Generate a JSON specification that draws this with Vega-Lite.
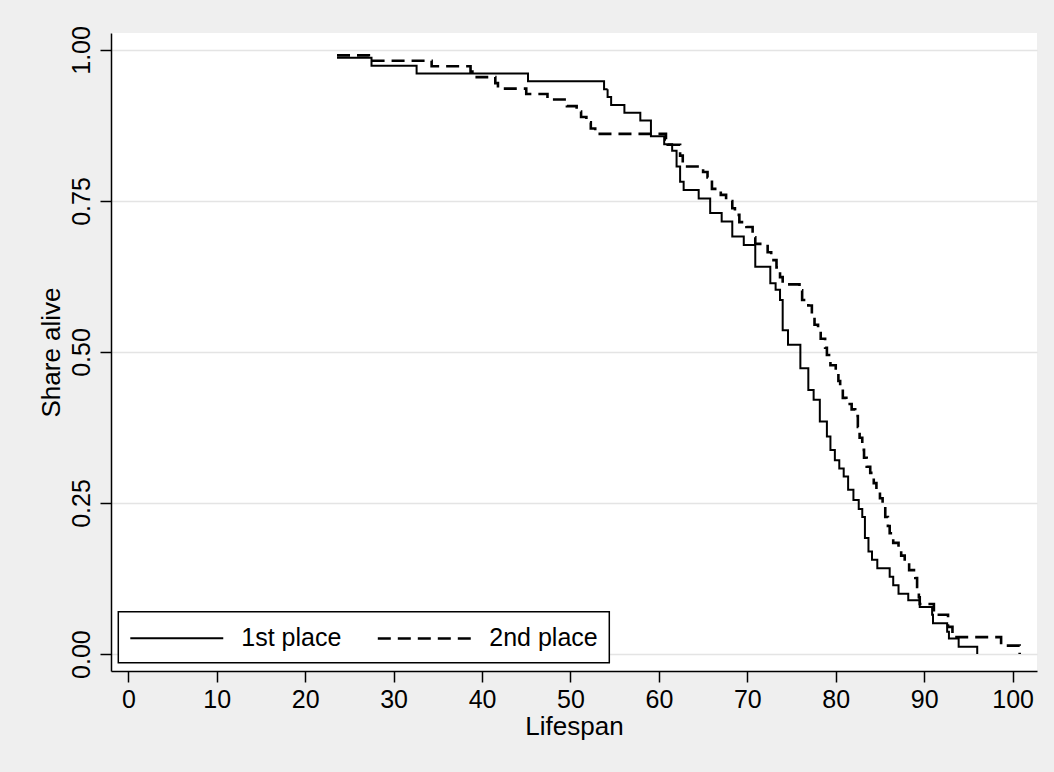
{
  "$schema": "https://vega.github.io/schema/vega-lite/v6.json",
  "autosize": "none",
  "width": 926,
  "height": 638,
  "padding": {"left": 111, "top": 33, "right": 17, "bottom": 101},
  "background": "#efefef",
  "config": {
    "view": {"fill": "white", "stroke": null},
    "font": "Liberation Sans",
    "axis": {
      "labelFont": "Liberation Sans",
      "titleFont": "Liberation Sans",
      "labelFontSize": 25,
      "titleFontSize": 26,
      "titleFontWeight": "normal",
      "labelColor": "black",
      "titleColor": "black",
      "domainColor": "black",
      "domainWidth": 1.5,
      "tickColor": "black",
      "tickWidth": 1.5,
      "tickSize": 11
    },
    "legend": {"strokeWidth": 1.5}
  },
  "data": {
    "values": [
      {"place": "1st place", "age": 23.6, "s": 0.987},
      {"place": "1st place", "age": 27.5, "s": 0.974},
      {"place": "1st place", "age": 32.6, "s": 0.961},
      {"place": "1st place", "age": 45.2, "s": 0.948},
      {"place": "1st place", "age": 53.8, "s": 0.935},
      {"place": "1st place", "age": 54.2, "s": 0.922},
      {"place": "1st place", "age": 54.6, "s": 0.909},
      {"place": "1st place", "age": 56.1, "s": 0.896},
      {"place": "1st place", "age": 57.9, "s": 0.883},
      {"place": "1st place", "age": 59.1, "s": 0.857},
      {"place": "1st place", "age": 60.6, "s": 0.844},
      {"place": "1st place", "age": 61.5, "s": 0.833},
      {"place": "1st place", "age": 62.0, "s": 0.807},
      {"place": "1st place", "age": 62.4, "s": 0.782},
      {"place": "1st place", "age": 62.8, "s": 0.768},
      {"place": "1st place", "age": 64.5, "s": 0.754},
      {"place": "1st place", "age": 65.8, "s": 0.730},
      {"place": "1st place", "age": 67.1, "s": 0.716},
      {"place": "1st place", "age": 68.3, "s": 0.691},
      {"place": "1st place", "age": 69.6, "s": 0.677},
      {"place": "1st place", "age": 70.9, "s": 0.641},
      {"place": "1st place", "age": 72.6, "s": 0.614},
      {"place": "1st place", "age": 73.2, "s": 0.603},
      {"place": "1st place", "age": 73.7, "s": 0.586},
      {"place": "1st place", "age": 74.0, "s": 0.536},
      {"place": "1st place", "age": 74.6, "s": 0.512},
      {"place": "1st place", "age": 76.0, "s": 0.473},
      {"place": "1st place", "age": 76.9, "s": 0.437},
      {"place": "1st place", "age": 77.5, "s": 0.421},
      {"place": "1st place", "age": 78.2, "s": 0.385},
      {"place": "1st place", "age": 79.0, "s": 0.360},
      {"place": "1st place", "age": 79.4, "s": 0.338},
      {"place": "1st place", "age": 79.9, "s": 0.321},
      {"place": "1st place", "age": 80.4, "s": 0.307},
      {"place": "1st place", "age": 80.9, "s": 0.294},
      {"place": "1st place", "age": 81.4, "s": 0.272},
      {"place": "1st place", "age": 82.0, "s": 0.255},
      {"place": "1st place", "age": 82.6, "s": 0.240},
      {"place": "1st place", "age": 83.0, "s": 0.227},
      {"place": "1st place", "age": 83.3, "s": 0.192},
      {"place": "1st place", "age": 83.7, "s": 0.170},
      {"place": "1st place", "age": 84.1, "s": 0.156},
      {"place": "1st place", "age": 84.7, "s": 0.142},
      {"place": "1st place", "age": 86.1, "s": 0.128},
      {"place": "1st place", "age": 86.5, "s": 0.114},
      {"place": "1st place", "age": 87.1, "s": 0.100},
      {"place": "1st place", "age": 88.2, "s": 0.089},
      {"place": "1st place", "age": 89.5, "s": 0.078},
      {"place": "1st place", "age": 90.9, "s": 0.065},
      {"place": "1st place", "age": 91.0, "s": 0.051},
      {"place": "1st place", "age": 92.6, "s": 0.037},
      {"place": "1st place", "age": 92.8, "s": 0.026},
      {"place": "1st place", "age": 93.9, "s": 0.012},
      {"place": "1st place", "age": 96.0, "s": 0.0},
      {"place": "2nd place", "age": 23.6, "s": 0.991},
      {"place": "2nd place", "age": 27.2, "s": 0.982},
      {"place": "2nd place", "age": 34.3, "s": 0.973},
      {"place": "2nd place", "age": 38.7, "s": 0.964},
      {"place": "2nd place", "age": 39.4, "s": 0.955},
      {"place": "2nd place", "age": 41.5, "s": 0.945},
      {"place": "2nd place", "age": 41.8, "s": 0.936},
      {"place": "2nd place", "age": 45.0, "s": 0.927},
      {"place": "2nd place", "age": 47.4, "s": 0.918},
      {"place": "2nd place", "age": 49.6, "s": 0.907},
      {"place": "2nd place", "age": 50.7, "s": 0.898},
      {"place": "2nd place", "age": 51.2, "s": 0.889},
      {"place": "2nd place", "age": 51.8, "s": 0.880},
      {"place": "2nd place", "age": 52.3, "s": 0.870},
      {"place": "2nd place", "age": 52.8, "s": 0.861},
      {"place": "2nd place", "age": 60.8, "s": 0.852},
      {"place": "2nd place", "age": 61.0, "s": 0.843},
      {"place": "2nd place", "age": 62.4, "s": 0.825},
      {"place": "2nd place", "age": 62.7, "s": 0.807},
      {"place": "2nd place", "age": 65.0, "s": 0.798},
      {"place": "2nd place", "age": 65.5, "s": 0.789},
      {"place": "2nd place", "age": 66.0, "s": 0.770},
      {"place": "2nd place", "age": 67.0, "s": 0.760},
      {"place": "2nd place", "age": 67.6, "s": 0.750},
      {"place": "2nd place", "age": 68.3, "s": 0.738},
      {"place": "2nd place", "age": 68.6, "s": 0.727},
      {"place": "2nd place", "age": 69.1, "s": 0.715},
      {"place": "2nd place", "age": 69.9, "s": 0.707},
      {"place": "2nd place", "age": 70.6, "s": 0.690},
      {"place": "2nd place", "age": 70.9, "s": 0.679},
      {"place": "2nd place", "age": 72.3, "s": 0.665},
      {"place": "2nd place", "age": 72.7, "s": 0.652},
      {"place": "2nd place", "age": 73.3, "s": 0.640},
      {"place": "2nd place", "age": 73.7, "s": 0.624},
      {"place": "2nd place", "age": 74.0, "s": 0.612},
      {"place": "2nd place", "age": 75.9, "s": 0.602},
      {"place": "2nd place", "age": 76.2, "s": 0.586},
      {"place": "2nd place", "age": 76.9, "s": 0.577},
      {"place": "2nd place", "age": 77.3, "s": 0.560},
      {"place": "2nd place", "age": 77.6, "s": 0.545},
      {"place": "2nd place", "age": 78.0, "s": 0.536},
      {"place": "2nd place", "age": 78.3, "s": 0.522},
      {"place": "2nd place", "age": 78.8, "s": 0.507},
      {"place": "2nd place", "age": 79.0, "s": 0.495},
      {"place": "2nd place", "age": 79.4, "s": 0.478},
      {"place": "2nd place", "age": 80.0, "s": 0.470},
      {"place": "2nd place", "age": 80.3, "s": 0.452},
      {"place": "2nd place", "age": 80.5, "s": 0.440},
      {"place": "2nd place", "age": 80.8, "s": 0.424},
      {"place": "2nd place", "age": 81.2, "s": 0.414},
      {"place": "2nd place", "age": 81.8, "s": 0.405},
      {"place": "2nd place", "age": 82.2, "s": 0.394},
      {"place": "2nd place", "age": 82.5, "s": 0.376},
      {"place": "2nd place", "age": 82.7, "s": 0.358},
      {"place": "2nd place", "age": 83.0, "s": 0.338},
      {"place": "2nd place", "age": 83.2, "s": 0.325},
      {"place": "2nd place", "age": 83.5, "s": 0.310},
      {"place": "2nd place", "age": 83.9, "s": 0.300},
      {"place": "2nd place", "age": 84.3, "s": 0.283},
      {"place": "2nd place", "age": 84.6, "s": 0.272},
      {"place": "2nd place", "age": 85.0, "s": 0.258},
      {"place": "2nd place", "age": 85.3, "s": 0.245},
      {"place": "2nd place", "age": 85.6, "s": 0.227},
      {"place": "2nd place", "age": 85.9, "s": 0.212},
      {"place": "2nd place", "age": 86.1, "s": 0.200},
      {"place": "2nd place", "age": 86.5, "s": 0.184},
      {"place": "2nd place", "age": 87.1, "s": 0.172},
      {"place": "2nd place", "age": 87.4, "s": 0.163},
      {"place": "2nd place", "age": 87.8, "s": 0.151},
      {"place": "2nd place", "age": 88.3, "s": 0.139},
      {"place": "2nd place", "age": 89.0, "s": 0.126},
      {"place": "2nd place", "age": 89.2, "s": 0.111},
      {"place": "2nd place", "age": 89.4, "s": 0.094},
      {"place": "2nd place", "age": 89.5, "s": 0.083},
      {"place": "2nd place", "age": 91.1, "s": 0.065},
      {"place": "2nd place", "age": 92.7, "s": 0.045},
      {"place": "2nd place", "age": 93.2, "s": 0.035},
      {"place": "2nd place", "age": 93.5, "s": 0.028},
      {"place": "2nd place", "age": 98.7, "s": 0.014},
      {"place": "2nd place", "age": 100.8, "s": 0.0}
    ]
  },
  "mark": {"type": "line", "interpolate": "step-after", "color": "black", "clip": true},
  "encoding": {
    "x": {
      "field": "age",
      "type": "quantitative",
      "scale": {"domain": [-1.96, 102.76], "nice": false, "zero": false},
      "axis": {
        "title": "Lifespan",
        "values": [0, 10, 20, 30, 40, 50, 60, 70, 80, 90, 100],
        "grid": false,
        "labelPadding": 5,
        "titlePadding": 1
      }
    },
    "y": {
      "field": "s",
      "type": "quantitative",
      "scale": {"domain": [-0.028, 1.028], "nice": false, "zero": false},
      "axis": {
        "title": "Share alive",
        "values": [0, 0.25, 0.5, 0.75, 1],
        "format": ".2f",
        "grid": true,
        "gridColor": "#e4e4e4",
        "gridWidth": 1.5,
        "labelAngle": -90,
        "labelAlign": "center",
        "labelBaseline": "alphabetic",
        "labelPadding": 11,
        "titlePadding": 5
      }
    },
    "strokeDash": {
      "field": "place",
      "type": "nominal",
      "scale": {"domain": ["1st place", "2nd place"], "range": [[1, 0], [13, 7]]},
      "legend": {
        "title": null,
        "orient": "none",
        "legendX": 7.3,
        "legendY": 578.7,
        "direction": "horizontal",
        "fillColor": "white",
        "strokeColor": "black",
        "padding": 11,
        "symbolType": "M-1,0H5.64",
        "symbolSize": 784,
        "symbolStrokeWidth": 2.2,
        "symbolStrokeColor": "black",
        "labelFontSize": 25,
        "labelFont": "Liberation Sans",
        "labelColor": "black",
        "labelOffset": 82,
        "columnPadding": 30
      }
    },
    "strokeWidth": {
      "field": "place",
      "type": "nominal",
      "scale": {"domain": ["1st place", "2nd place"], "range": [2, 2.6]},
      "legend": null
    }
  }
}
